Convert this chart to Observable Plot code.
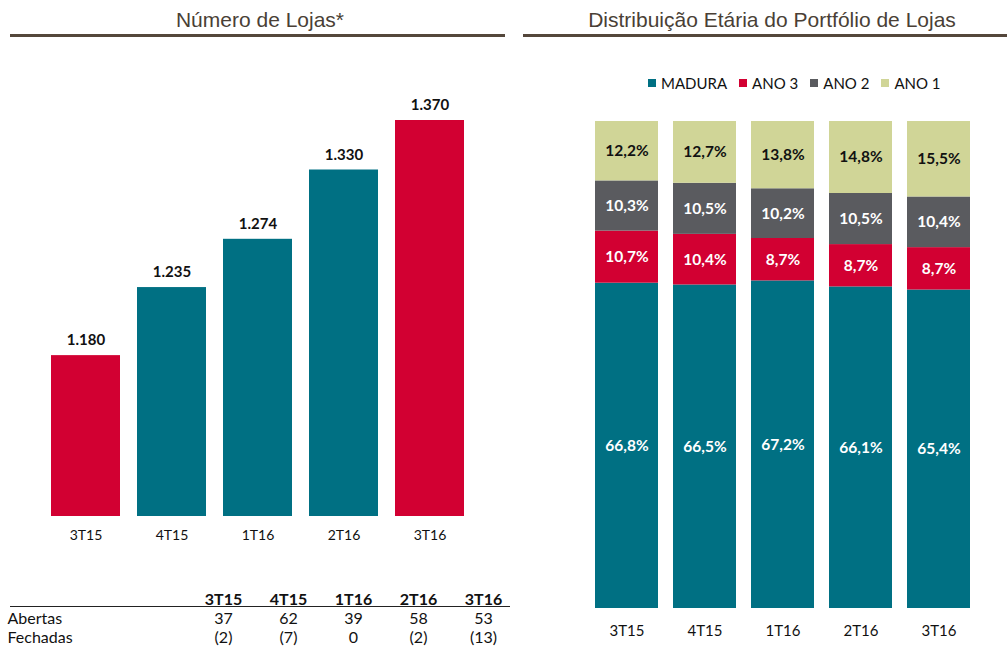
<!DOCTYPE html>
<html><head><meta charset="utf-8">
<script src="https://cdn.jsdelivr.net/npm/d3@7"></script>
<script src="https://cdn.jsdelivr.net/npm/@observablehq/plot@0.6"></script>
<style>
body{margin:0;background:#fff;}
#root{position:relative;width:1007px;height:648px;overflow:hidden;font-family:Lato,"Open Sans",sans-serif;}
.title{position:absolute;font-family:"Liberation Sans",Arial,sans-serif;font-size:21px;line-height:24px;color:#4a3f36;text-align:center;white-space:nowrap;}
.rule{position:absolute;height:3px;background:#54473b;}
.abs{position:absolute;}
.legend{position:absolute;display:flex;align-items:center;font-size:15px;color:#111;white-space:nowrap;}
.legend span.sw{display:inline-block;width:8px;height:8px;margin-right:5px;}
.legend span.it{display:inline-flex;align-items:center;margin-right:12px;}
</style></head>
<body>
<div id="root"></div>
<script>
// ---------- data ----------
const periods = ["3T15", "4T15", "1T16", "2T16", "3T16"];
const lojas = [1180, 1235, 1274, 1330, 1370];
const destaque = ["3T15", "3T16"];
const abertas = [37, 62, 39, 58, 53];
const fechadas = [-2, -7, 0, -2, -13];
const faixas = ["MADURA", "ANO 3", "ANO 2", "ANO 1"];
const madura = [66.8, 66.5, 67.2, 66.1, 65.4];
const ano3 = [10.7, 10.4, 8.7, 8.7, 8.7];
const ano2 = [10.3, 10.5, 10.2, 10.5, 10.4];
const ano1 = [12.2, 12.7, 13.8, 14.8, 15.5];

const RED = "#d20032", TEAL = "#007083", GRAY = "#5a5b5f", GREEN = "#d0d597";
const faixaCores = [TEAL, RED, GRAY, GREEN];
const loc = d3.formatLocale({decimal: ",", thousands: ".", grouping: [3], currency: ["R$", ""]});
const fmtInt = loc.format(",d");
const fmtPct = d => loc.format(".1f")(d) + "%";

const root = document.getElementById("root");
function addDiv(cls, style, html) {
  const d = document.createElement("div");
  d.className = cls;
  Object.assign(d.style, style);
  if (html != null) d.innerHTML = html;
  root.appendChild(d);
  return d;
}

// ---------- headers ----------
addDiv("title", {left: "12px", width: "496px", top: "8px"}, "Número de Lojas*");
addDiv("rule", {left: "10px", width: "495px", top: "34px"});
addDiv("title", {left: "537px", width: "470px", top: "8px"}, "Distribuição Etária do Portfólio de Lojas");
addDiv("rule", {left: "523px", width: "484px", top: "34px"});

// ---------- left bar chart ----------
const lojasData = periods.map((p, i) => ({period: p, value: lojas[i]}));
const left = Plot.plot({
  width: 510, height: 490,
  marginTop: 60, marginBottom: 34, marginLeft: 32, marginRight: 27,
  style: {fontFamily: "Lato, sans-serif", fontSize: "14px", color: "#111", background: "transparent"},
  x: {domain: periods, padding: 0.2, label: null, tickSize: 0, tickPadding: 14},
  y: {domain: [1050, 1370], clamp: true, axis: null},
  marks: [
    Plot.barY(lojasData, {x: "period", y: "value", fill: d => destaque.includes(d.period) ? RED : TEAL}),
    Plot.text(lojasData, {x: "period", y: "value", text: d => fmtInt(d.value), dy: -15,
      fontWeight: "bold", fontSize: 15, fill: "#111"})
  ]
});
left.style.position = "absolute"; left.style.left = "0px"; left.style.top = "60px";
root.appendChild(left);

// ---------- table ----------
const tabela = [];
periods.forEach((p, i) => {
  tabela.push({row: "header", period: p, text: p, bold: true});
  tabela.push({row: "Abertas", period: p, text: String(abertas[i]), bold: false});
  tabela.push({row: "Fechadas", period: p, text: fechadas[i] < 0 ? "(" + (-fechadas[i]) + ")" : String(fechadas[i]), bold: false});
});
const tab = Plot.plot({
  width: 510, height: 63, margin: 0,
  style: {fontFamily: "Lato, sans-serif", fontSize: "16px", color: "#111", background: "transparent"},
  x: {type: "point", domain: periods, range: [222, 483], padding: 0, axis: null},
  y: {type: "point", domain: ["header", "Abertas", "Fechadas"], range: [14, 52], padding: 0, axis: null},
  marks: [
    Plot.text(tabela.filter(d => d.bold), {x: "period", y: "row", text: "text", fontWeight: "bold", fontSize: 16, fill: "#111"}),
    Plot.text(tabela.filter(d => !d.bold), {x: "period", y: "row", text: "text", fontSize: 16, fill: "#111"}),
    Plot.text(["Abertas", "Fechadas"], {y: d => d, text: d => d, frameAnchor: "left", textAnchor: "start", dx: 7, fontSize: 16, fill: "#111"})
  ]
});
tab.style.position = "absolute"; tab.style.left = "0px"; tab.style.top = "585px";
root.appendChild(tab);
addDiv("abs", {left: "10px", width: "500px", top: "606px", height: "1px", background: "#222"});

// ---------- legend ----------
const leg = addDiv("legend", {left: "648px", top: "74px"});
faixas.forEach((f, i) => {
  const it = document.createElement("span");
  it.className = "it";
  it.innerHTML = `<span class="sw" style="background:${faixaCores[i]}"></span>${f}`;
  leg.appendChild(it);
});

// ---------- right stacked chart ----------
const serieVals = {"MADURA": madura, "ANO 3": ano3, "ANO 2": ano2, "ANO 1": ano1};
const idade = [];
periods.forEach((p, i) => faixas.forEach(f => idade.push({period: p, serie: f, value: serieVals[f][i]})));
const stackOpts = {x: "period", y: "value", z: "serie", order: faixas, offset: "normalize"};
const right = Plot.plot({
  width: 447, height: 548,
  marginTop: 21, marginBottom: 40, marginLeft: 18, marginRight: 20.5,
  style: {fontFamily: "Lato, sans-serif", fontSize: "15px", color: "#111", background: "transparent"},
  x: {domain: periods, padding: 0.187, label: null, tickSize: 0, tickPadding: 17},
  y: {axis: null},
  color: {domain: faixas, range: faixaCores},
  marks: [
    Plot.barY(idade, Plot.stackY({...stackOpts, fill: "serie"})),
    Plot.text(idade, Plot.stackY({...stackOpts, text: d => d.serie !== "ANO 1" ? fmtPct(d.value) : null,
      fill: "white", fontWeight: "bold", fontSize: 15.5})),
    Plot.text(idade, Plot.stackY({...stackOpts, text: d => d.serie === "ANO 1" ? fmtPct(d.value) : null,
      fill: "#111", fontWeight: "bold", fontSize: 15.5}))
  ]
});
right.style.position = "absolute"; right.style.left = "560px"; right.style.top = "100px";
root.appendChild(right);
</script>
</body></html>
